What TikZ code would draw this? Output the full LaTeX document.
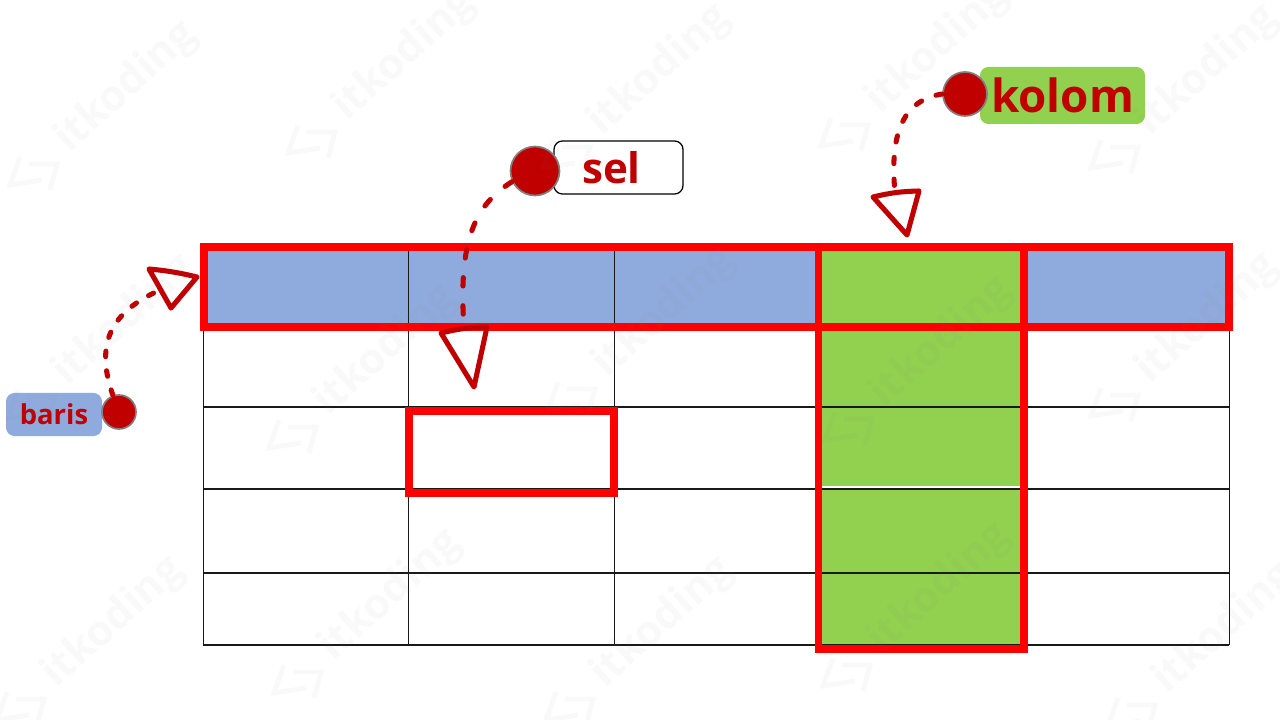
\documentclass[tikz,border=0pt]{standalone}
\usepackage{fontspec}
\setmainfont{Open Sans}
\usepackage{xcolor}
\usetikzlibrary{positioning,calc}
\definecolor{darkred}{HTML}{C00000}
\definecolor{rowblue}{HTML}{8FAADC}
\definecolor{colgreen}{HTML}{92D050}
\tikzset{
vline/.style={
draw=black!90,
line width=0.7pt
},
hline/.style={
draw=black!90,
line width=1.1pt
},
markbox/.style={
draw=red,
line width=5.5pt,
inner sep=0pt,
outer sep=0pt
},
tag/.style={
rounded corners=6pt,
inner sep=0pt,
align=center,
text=darkred
},
dot/.style={
circle,
draw=gray,
line width=1.2pt,
fill=darkred,
inner sep=0pt
},
tip/.style={
draw=darkred,
line width=3.6pt,
line join=round
},
dashline/.style={
draw=darkred,
line width=3.6pt,
line cap=round,
dash pattern=on 4pt off 10pt
},
wmtext/.style={
rotate=42,
text=gray,
text opacity=0.045,
font=\bfseries\fontsize{30pt}{30pt}\selectfont,
anchor=base west,
inner sep=0pt
},
wmlogo/.style={
draw=gray,
draw opacity=0.045,
line width=3.5pt
}
}
\begin{document}
\begin{tikzpicture}[x=0.025cm,y=-0.025cm]
\useasboundingbox (0,0) rectangle (1280,720);
\fill[white] (0,0) rectangle (1280,720);
% coloured cells
\foreach \xa/\xb/\col in {203/408/rowblue,408/614/rowblue,614/819/rowblue,819/1024/colgreen,1024/1229/rowblue}{
\fill[\col] (\xa,246) rectangle (\xb,326);
}
\fill[colgreen] (819,326) rectangle (1024,645);
\draw[white,line width=0.8pt] (822,487) -- (1021,487);
% grid
\foreach \xa in {203,408,614,819,1024,1229}{
\draw[vline] (\xa,246) -- (\xa,645);
}
\foreach \ya in {326,407,489,573,645}{
\draw[hline] (203,\ya) -- (1229,\ya);
}
% red marks
\node[markbox,minimum width=1025*0.025cm,minimum height=80*0.025cm](rowmark) at (716.5,287){};
\node[markbox,minimum width=205.5*0.025cm,minimum height=402*0.025cm](colmark) at (921.25,448){};
\node[markbox,minimum width=205*0.025cm,minimum height=82*0.025cm](cellmark) at (511.5,452){};
% labels
\node[tag,fill=rowblue,minimum width=96*0.025cm,minimum height=43*0.025cm,font=\bfseries\fontsize{19.5pt}{20pt}\selectfont](baris) at (54,414.5){baris};
\node[tag,draw=black,line width=0.9pt,fill=white,minimum width=129*0.025cm,minimum height=53*0.025cm,font=\bfseries\fontsize{30pt}{30pt}\selectfont](sel) at (618.5,167.5){\hspace{-10pt}sel};
\node[tag,fill=colgreen,minimum width=165*0.025cm,minimum height=57*0.025cm,font=\bfseries\fontsize{32.5pt}{33pt}\selectfont](kolom) at (1062.5,95.5){kolom};
% dots
\node[dot,minimum size=34*0.025cm](dotb) at (119,412){};
\node[dot,minimum size=49*0.025cm](dots) at (535,171){};
\node[dot,minimum size=44*0.025cm](dotk) at (965,94){};
% arrow tips
\coordinate (tipb) at (158,291);
\coordinate (tips) at (464,328);
\coordinate (tipk) at (895,193);
\draw[tip] (149,269) to[bend left=4] (197,277) -- (171,308) -- cycle;
\draw[tip] (441,333) to[bend left=6] (487,327) -- (474,387) -- cycle;
\draw[tip] (873,197) to[bend left=6] (919,191) -- (907,235) -- cycle;
% dashed links
\draw[dashline] (dotb.110) .. controls (97,350) and (105,315) .. (tipb);
\draw[dashline,dash pattern=on 6pt off 14pt] (dots.205) .. controls (475,205) and (458,240) .. (tips);
\draw[dashline,dash pattern=on 4.5pt off 11pt] (dotk.west) .. controls (905,100) and (889,130) .. (tipk);
% watermark
\foreach \lx/\ly [count=\i] in {32/172,310/140,565/155,843/133,1113/155,30/405,291/435,570/397,847/427,1113/403,19/707,296/680,568/707,845/673,1130/713}{
\node[wmtext](wm\i) at (\lx+37,\ly-18){itkoding};
\draw[wmlogo] (\lx-12,\ly-15) -- (\lx-22,\ly+13) -- (\lx+10,\ly+8);
\draw[wmlogo] (\lx-3,\ly-8) -- (\lx+25,\ly-8) -- (\lx+18,\ly+18);
}
\end{tikzpicture}
\end{document}
